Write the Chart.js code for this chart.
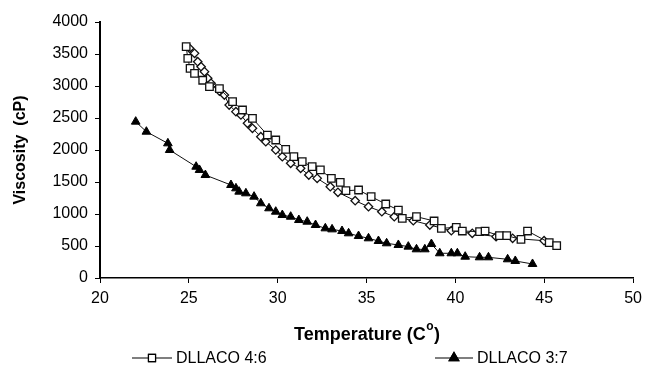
<!DOCTYPE html>
<html>
<head>
<meta charset="utf-8">
<script src="https://cdn.jsdelivr.net/npm/chart.js@4.4.1/dist/chart.umd.min.js"></script>
<style>
  html, body { margin: 0; padding: 0; background: #fff; }
  #wrap { width: 648px; height: 379px; }
</style>
</head>
<body>
<div id="wrap"><canvas id="viscChart" width="648" height="379"></canvas></div>
<script>
// =====================
// DATA
// =====================
const xTitle = "Temperature (C";
const xTitleSup = "o";
const yTitle = "Viscosity  (cP)";
const legendNames = ["DLLACO 4:6", "DLLACO 3:7"];

// DLLACO 4:6 (open squares)
const tempA = [24.85, 24.94, 25.07, 25.32, 25.78, 26.16, 26.72, 27.46, 28.02, 28.58, 29.42, 29.89, 30.45, 30.91, 31.38, 31.94, 32.40, 33.02, 33.52, 33.84, 34.55, 35.26, 36.08, 36.79, 37.01, 37.81, 38.80, 39.21, 40.05, 40.39, 41.36, 41.67, 42.48, 42.89, 43.69, 44.06, 45.28, 45.70];
const viscA = [3615, 3432, 3276, 3198, 3090, 2989, 2960, 2755, 2625, 2495, 2234, 2156, 2010, 1896, 1818, 1739, 1688, 1557, 1495, 1364, 1375, 1271, 1156, 1062, 932, 958, 891, 776, 792, 734, 724, 734, 661, 661, 604, 734, 552, 505];

// second 4:6 run (open diamonds, not in legend)
const tempB = [25.04, 25.32, 25.50, 25.69, 25.88, 26.06, 26.25, 26.72, 27.00, 27.27, 27.65, 27.93, 28.30, 28.58, 29.05, 29.33, 29.89, 30.26, 30.73, 31.29, 31.75, 32.22, 32.96, 33.39, 34.36, 35.11, 35.86, 36.56, 37.63, 38.56, 39.77, 40.95, 42.29, 43.22, 44.99];
const viscB = [3589, 3510, 3380, 3302, 3224, 3120, 3042, 2920, 2859, 2703, 2599, 2547, 2417, 2339, 2208, 2130, 2000, 1896, 1792, 1714, 1609, 1557, 1427, 1339, 1208, 1114, 1036, 958, 896, 828, 740, 698, 646, 620, 583];

// DLLACO 3:7 (filled triangles)
const tempC = [22.01, 22.61, 23.82, 23.92, 25.41, 25.60, 25.93, 27.37, 27.65, 27.83, 28.21, 28.67, 29.05, 29.51, 29.89, 30.26, 30.73, 31.19, 31.66, 32.13, 32.68, 33.06, 33.62, 33.99, 34.55, 35.11, 35.67, 36.13, 36.79, 37.35, 37.81, 38.28, 38.65, 39.12, 39.77, 40.11, 40.55, 41.36, 41.86, 42.94, 43.37, 44.34];
const viscC = [2443, 2286, 2104, 2000, 1739, 1688, 1609, 1453, 1401, 1349, 1323, 1271, 1167, 1089, 1036, 984, 958, 906, 880, 828, 776, 760, 734, 698, 656, 620, 578, 542, 516, 490, 448, 448, 531, 386, 386, 386, 333, 323, 323, 292, 266, 219];

const toPoints = (xs, ys) => xs.map((x, i) => ({ x: x, y: ys[i] }));
const FONT = "'Liberation Sans', Arial, sans-serif";

// =====================
// CUSTOM TITLE + LEGEND
// =====================
const extrasPlugin = {
  id: "extras",
  afterDraw(chart) {
    const ctx = chart.ctx;
    const area = chart.chartArea;
    ctx.save();
    ctx.fillStyle = "#000";

    // x title with superscript o
    ctx.font = "bold 18px " + FONT;
    const w1 = ctx.measureText(xTitle).width;
    const w3 = ctx.measureText(")").width;
    ctx.font = "bold 12px " + FONT;
    const w2 = ctx.measureText(xTitleSup).width;
    const x = (area.left + area.right) / 2 - (w1 + w2 + w3) / 2;
    const ty = 340;
    ctx.textBaseline = "alphabetic";
    ctx.textAlign = "left";
    ctx.font = "bold 18px " + FONT;
    ctx.fillText(xTitle, x, ty);
    ctx.font = "bold 12px " + FONT;
    ctx.fillText(xTitleSup, x + w1 + 0.5, ty - 10);
    ctx.font = "bold 18px " + FONT;
    ctx.fillText(")", x + w1 + w2 + 1, ty);

    // y title
    ctx.save();
    ctx.translate(21, (area.top + area.bottom) / 2);
    ctx.rotate(-Math.PI / 2);
    ctx.textAlign = "center";
    ctx.textBaseline = "middle";
    ctx.font = "bold 16px " + FONT;
    ctx.fillText(yTitle, 0, 0);
    ctx.restore();

    // legend
    const ly = 358;
    const items = [
      { x0: 132, x1: 172, style: "rect", fill: "#fff", r: 5 },
      { x0: 435, x1: 473, style: "triangle", fill: "#000", r: 5.5 }
    ];
    items.forEach((it, i) => {
      ctx.strokeStyle = "#000";
      ctx.lineWidth = 1.2;
      ctx.beginPath();
      ctx.moveTo(it.x0, ly);
      ctx.lineTo(it.x1, ly);
      ctx.stroke();
      ctx.fillStyle = it.fill;
      Chart.helpers.drawPoint(ctx, { pointStyle: it.style, radius: it.r, borderWidth: 1.2 }, (it.x0 + it.x1) / 2, ly);
      ctx.fill();
      ctx.stroke();
      ctx.fillStyle = "#000";
      ctx.font = "16px " + FONT;
      ctx.textAlign = "left";
      ctx.textBaseline = "middle";
      ctx.fillText(legendNames[i], it.x1 + 4, ly + 1);
    });
    ctx.restore();
  }
};

// =====================
// CHART
// =====================
const ctx = document.getElementById("viscChart").getContext("2d");
new Chart(ctx, {
  type: "scatter",
  data: {
    datasets: [
      {
        label: legendNames[0],
        data: toPoints(tempA, viscA),
        showLine: true,
        borderColor: "#111",
        borderWidth: 1,
        pointStyle: "rect",
        pointRadius: 5.3,
        pointBorderWidth: 1.3,
        pointBackgroundColor: "#fff",
        pointBorderColor: "#111"
      },
      {
        label: "DLLACO 4:6 (b)",
        data: toPoints(tempB, viscB),
        showLine: true,
        borderColor: "#111",
        borderWidth: 1,
        pointStyle: "rectRot",
        pointRadius: 4.2,
        pointBorderWidth: 1.3,
        pointBackgroundColor: "#fff",
        pointBorderColor: "#111"
      },
      {
        label: legendNames[1],
        data: toPoints(tempC, viscC),
        showLine: true,
        borderColor: "#111",
        borderWidth: 1,
        pointStyle: "triangle",
        pointRadius: 5,
        pointBorderWidth: 1,
        pointBackgroundColor: "#000",
        pointBorderColor: "#000"
      }
    ]
  },
  options: {
    responsive: false,
    animation: false,
    layout: { padding: { left: 0, right: 12, top: 22, bottom: 0 } },
    plugins: { legend: { display: false }, tooltip: { enabled: false } },
    scales: {
      x: {
        type: "linear",
        min: 20, max: 50,
        ticks: { stepSize: 5, color: "#000", padding: 6, font: { size: 16, family: FONT } },
        grid: { drawOnChartArea: false, tickLength: 5, color: "#000" },
        border: { color: "#000", width: 1.5 },
        afterFit: s => { s.height = 101; }
      },
      y: {
        min: 0, max: 4000,
        ticks: { stepSize: 500, color: "#000", padding: 7, font: { size: 16, family: FONT }, callback: v => String(v) },
        grid: { drawOnChartArea: false, tickLength: 5, color: "#000" },
        border: { color: "#000", width: 2 },
        afterFit: s => { s.width = 100; }
      }
    }
  },
  plugins: [extrasPlugin]
});
</script>
</body>
</html>
